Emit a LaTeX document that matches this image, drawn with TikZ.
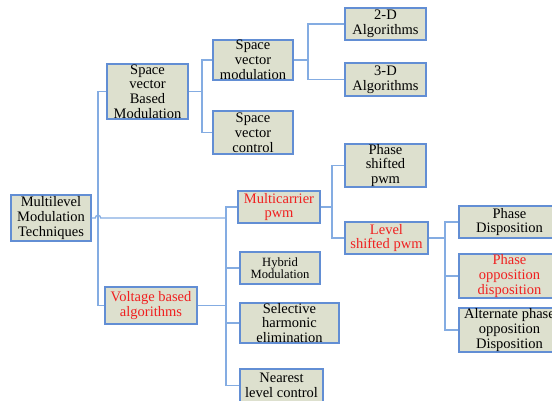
\documentclass[tikz,border=0pt]{standalone}
\usepackage{fontspec}
\setmainfont{Liberation Serif}

\definecolor{boxfill}{RGB}{221,224,206}
\definecolor{boxline}{RGB}{98,142,212}
\definecolor{linkblue}{RGB}{132,172,226}
\definecolor{hotred}{RGB}{240,32,32}

\tikzset{every picture/.style={line width=0.75pt}}
\tikzset{
	blk/.style={draw=boxline, fill=boxfill, line width=1.3pt, align=center, inner sep=0pt,
		font=\fontsize{14.5}{14.8}\selectfont},
	hot/.style={text=hotred},
	link/.style={draw=linkblue, line width=1.3pt}}

\begin{document}
\begin{tikzpicture}[x=1pt,y=1pt,yscale=-1,xscale=1]
	\useasboundingbox (0,0) rectangle (552,400);
	\clip (0,0) rectangle (552,400);

	% Branch columns
	\coordinate (c1) at (98,0);
	\coordinate (c2) at (226,0);
	\coordinate (c3) at (202,0);
	\coordinate (c4) at (308,0);
	\coordinate (c5) at (332,0);
	\coordinate (c6) at (445,0);

	% Text Node
	\node[blk, minimum width=80pt, minimum height=46pt] (mmt) at (51,218) {Multilevel\\Modulation\\Techniques};
	% Text Node
	\node[blk, minimum width=81pt, minimum height=55pt] (svbm) at (147.5,91.5) {Space\\vector\\Based\\Modulation};
	% Text Node
	\node[blk, minimum width=80pt, minimum height=40pt] (svm) at (253,60) {Space\\vector\\modulation};
	% Text Node
	\node[blk, minimum width=80pt, minimum height=43pt] (svc) at (253,132.5) {Space\\vector\\control};
	% Text Node
	\node[blk, minimum width=81pt, minimum height=32pt] (alg2) at (385.5,24) {2-D\\Algorithms};
	% Text Node
	\node[blk, minimum width=81pt, minimum height=33pt] (alg3) at (385.5,79.5) {3-D\\Algorithms};
	% Text Node
	\node[blk, hot, minimum width=92pt, minimum height=37pt] (vba) at (151,305.5) {Voltage based\\algorithms};
	% Text Node
	\node[blk, hot, minimum width=82pt, minimum height=32pt] (mcp) at (279,207) {Multicarrier\\pwm};
	% Text Node
	\node[blk, minimum width=80pt, minimum height=32pt, font=\fontsize{12.6}{12.6}\selectfont] (hyb) at (280,268) {Hybrid\\Modulation};
	% Text Node
	\node[blk, minimum width=99pt, minimum height=40pt] (she) at (289.5,323) {Selective\\harmonic\\elimination};
	% Text Node
	\node[blk, minimum width=83pt, minimum height=33pt] (nlc) at (281.5,385.5) {Nearest\\level control};
	% Text Node
	\node[blk, minimum width=81pt, minimum height=43pt] (psp) at (385.5,165.5) {Phase\\shifted\\pwm};
	% Text Node
	\node[blk, hot, minimum width=83pt, minimum height=32pt] (lsp) at (386.5,238) {Level\\shifted pwm};
	% Text Node
	\node[blk, minimum width=101pt, minimum height=32pt] (pd) at (509.5,222) {Phase\\Disposition};
	% Text Node
	\node[blk, hot, minimum width=101pt, minimum height=44pt] (pod) at (509.5,276) {Phase\\opposition\\disposition};
	% Text Node
	\node[blk, minimum width=101pt, minimum height=44pt] (apod) at (509.5,330) {Alternate phase\\opposition\\Disposition};

	% Connectors
	\draw[link] (svbm.west) -- (c1 |- svbm.west) -- (c1 |- vba.west) -- (vba.west);
	\draw[link] (mmt.east) -- ([xshift=-2.7pt]c1 |- mmt.east) .. controls +(0,-3.6) and +(0,-3.6) .. ([xshift=2.7pt]c1 |- mmt.east) -- (c2 |- mmt.east);
	\draw[link] (mcp.west) -- (c2 |- mcp.west) -- (c2 |- nlc.west) -- (nlc.west);
	\draw[link] (vba.east) -- (c2 |- vba.east);
	\draw[link] (hyb.west) -- (c2 |- hyb.west);
	\draw[link] (she.west) -- (c2 |- she.west);
	\draw[link] (svbm.east) -- (c3 |- svbm.east);
	\draw[link] (svm.west) -- (c3 |- svm.west) -- (c3 |- svc.west) -- (svc.west);
	\draw[link] (svm.east) -- (c4 |- svm.east);
	\draw[link] (alg2.west) -- (c4 |- alg2.west) -- (c4 |- alg3.west) -- (alg3.west);
	\draw[link] (mcp.east) -- (c5 |- mcp.east);
	\draw[link] (psp.west) -- (c5 |- psp.west) -- (c5 |- lsp.west) -- (lsp.west);
	\draw[link] (lsp.east) -- (c6 |- lsp.east);
	\draw[link] (pd.west) -- (c6 |- pd.west) -- (c6 |- apod.west) -- (apod.west);
	\draw[link] (pod.west) -- (c6 |- pod.west);
\end{tikzpicture}
\end{document}
